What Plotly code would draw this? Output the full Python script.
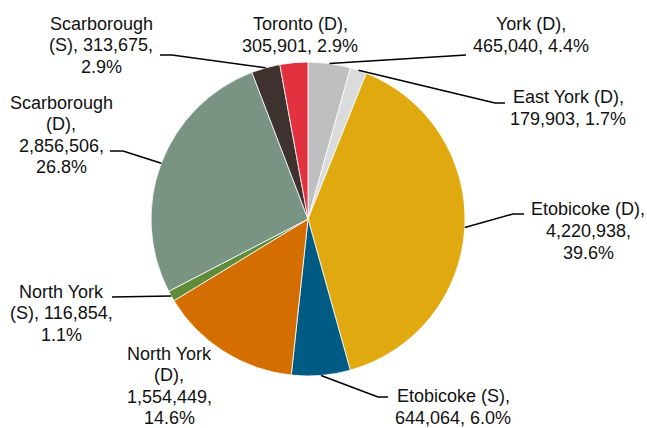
import plotly.graph_objects as go
import math

# ---- data ----
names = ["York (D)", "East York (D)", "Etobicoke (D)", "Etobicoke (S)", "North York (D)",
         "North York (S)", "Scarborough (D)", "Scarborough (S)", "Toronto (D)"]
values = [465040, 179903, 4220938, 644064, 1554449, 116854, 2856506, 313675, 305901]
colors = ["#BEBFC1", "#DADBDD", "#E0A90F", "#005B84", "#D46E00",
          "#5F8B3B", "#7A9483", "#3D322D", "#E3323F"]

# ---- layout / style ----
W, H = 647, 428
CX, CY, R = 308, 219, 157
LS = 21.5  # line spacing px
FONT = dict(family="Liberation Sans, Arial, sans-serif", size=18, color="#111111")

# label text wrap templates
wraps = ["{n},|{v}, {p}", "{n},|{v}, {p}", "{n},|{v},|{p}", "{n},|{v}, {p}",
         "{a}|{b},|{v},|{p}", "{a}|{b}, {v},|{p}", "{a}|{b},|{v},|{p}",
         "{a}|{b}, {v},|{p}", "{n},|{v}, {p}"]
# label centre positions (px)
label_pos = [(531, 35), (568, 108), (588, 231), (453, 407), (169, 386),
             (62, 313), (61, 135), (101, 45), (300, 35)]
# leader elbow (px) and end of horizontal tail (px); None = no leader
elbows = [((466, 55), None), ((495, 103), 505), ((513, 214), 524), ((378, 397), 388), None,
          ((112, 297), None), ((123, 151), 110), ((172, 55), 160), None]

total = sum(values)

def px(x):
    return x / W

def py(y):
    return 1 - y / H

fig = go.Figure(go.Pie(
    labels=names, values=values, sort=False, direction="clockwise", rotation=0,
    marker=dict(colors=colors, line=dict(color="white", width=0.8)),
    textinfo="none", hoverinfo="label+value+percent", showlegend=False,
    domain=dict(x=[px(CX - R), px(CX + R)], y=[py(CY + R), py(CY - R)]),
))

cum = 0
for i, (n, v) in enumerate(zip(names, values)):
    frac = v / total
    mid = (cum + frac / 2) * 2 * math.pi
    cum += frac
    a, b = n.rsplit(" ", 1)
    lines = wraps[i].format(n=n, a=a, b=b, v=f"{v:,}", p=f"{frac*100:.1f}%").split("|")
    lx, ly = label_pos[i]
    k = len(lines)
    for j, line in enumerate(lines):
        yy = ly + (j - (k - 1) / 2) * LS
        fig.add_annotation(x=px(lx), y=py(yy), xref="paper", yref="paper", text=line,
                           showarrow=False, xanchor="center", yanchor="middle",
                           align="center", font=FONT)
    if elbows[i] is not None:
        (ex, ey), tail = elbows[i]
        sx = CX + R * math.sin(mid)
        sy = CY - R * math.cos(mid)
        fig.add_shape(type="line", xref="paper", yref="paper",
                      x0=px(sx), y0=py(sy), x1=px(ex), y1=py(ey),
                      line=dict(color="black", width=1.5))
        if tail is not None:
            fig.add_shape(type="line", xref="paper", yref="paper",
                          x0=px(ex), y0=py(ey), x1=px(tail), y1=py(ey),
                          line=dict(color="black", width=1.5))

fig.update_layout(width=W, height=H, margin=dict(l=0, r=0, t=0, b=0),
                  paper_bgcolor="white", plot_bgcolor="white")
fig.write_html("out.html", config={"displayModeBar": False},
               post_script="document.body.style.margin='0';")
